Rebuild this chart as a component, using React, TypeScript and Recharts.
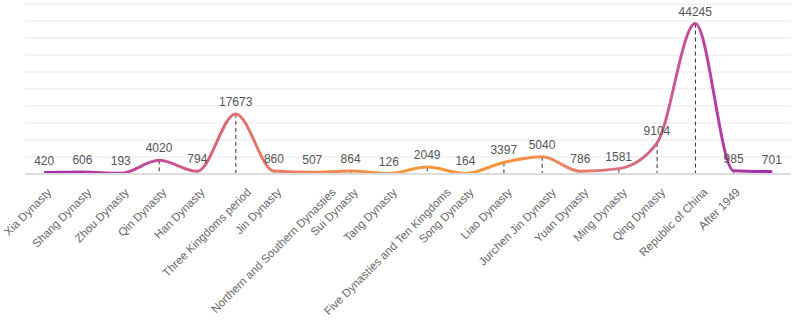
import React from "react";
import { ComposedChart, Line, Bar, XAxis, YAxis, CartesianGrid, LabelList } from "recharts";

const categories = [
  "Xia Dynasty",
  "Shang Dynasty",
  "Zhou Dynasty",
  "Qin Dynasty",
  "Han Dynasty",
  "Three Kingdoms period",
  "Jin Dynasty",
  "Northern and Southern Dynasties",
  "Sui Dynasty",
  "Tang Dynasty",
  "Five Dynasties and Ten Kingdoms",
  "Song Dynasty",
  "Liao Dynasty",
  "Jurchen Jin Dynasty",
  "Yuan Dynasty",
  "Ming Dynasty",
  "Qing Dynasty",
  "Republic of China",
  "After 1949",
  "",
];

const values = [420, 606, 193, 4020, 794, 17673, 860, 507, 864, 126, 2049, 164, 3397, 5040, 786, 1581, 9104, 44245, 985, 701];

const yTicks = [0, 5000, 10000, 15000, 20000, 25000, 30000, 35000, 40000, 45000, 50000];

const data = categories.map((name, i) => ({ name, value: values[i] }));

const DropLine = (props: any) => {
  const { x, y, width, height } = props;
  if (height == null || height <= 0) return null;
  const cx = x + width / 2;
  return <line x1={cx} x2={cx} y1={y} y2={y + height} stroke="#333" strokeWidth={1} strokeDasharray="4 3" />;
};

const Tick = (props: any) => {
  const { x, y, payload } = props;
  const label = String(payload.value ?? "");
  const shift = 0.82 * label.length - 1;
  return (
    <g transform={`translate(${x + shift},${y + 11})`}>
      <text transform="rotate(-45)" textAnchor="end" fill="#666" fontSize={11.5}>
        {label}
      </text>
    </g>
  );
};

export default function App() {
  return (
    <div style={{ position: "absolute", left: 0, top: 0, width: 793, height: 322, background: "#fff", fontFamily: "'Liberation Sans', Arial, sans-serif" }}>
      <ComposedChart width={793} height={322} data={data} margin={{ top: 4, right: 2, left: 25, bottom: 0 }}>
        <defs>
          <linearGradient id="lineGrad" x1="0" y1="0" x2="1" y2="0">
            <stop offset="0" stopColor="#a52aa8" />
            <stop offset="0.15" stopColor="#c44c9a" />
            <stop offset="0.27" stopColor="#e2716f" />
            <stop offset="0.4" stopColor="#f08a50" />
            <stop offset="0.5" stopColor="#f5963e" />
            <stop offset="0.62" stopColor="#f5963e" />
            <stop offset="0.7" stopColor="#ec8a5c" />
            <stop offset="0.77" stopColor="#e07478" />
            <stop offset="0.85" stopColor="#d0608e" />
            <stop offset="0.91" stopColor="#b843a0" />
            <stop offset="1" stopColor="#a02ab0" />
          </linearGradient>
        </defs>
        <CartesianGrid vertical={false} stroke="#e8e8e8" />
        <XAxis dataKey="name" interval={0} tick={<Tick />} tickLine={false} height={148} axisLine={{ stroke: "#dcdcdc", strokeWidth: 2 }} />
        <YAxis hide domain={[0, 50000]} ticks={yTicks} interval={0} />
        <Bar dataKey="value" shape={<DropLine />} isAnimationActive={false} />
        <Line
          type="monotone"
          dataKey="value"
          stroke="url(#lineGrad)"
          strokeWidth={3}
          dot={false}
          activeDot={false}
          isAnimationActive={false}
        >
          <LabelList dataKey="value" position="top" offset={8} fill="#555" fontSize={12} />
        </Line>
      </ComposedChart>
    </div>
  );
}
